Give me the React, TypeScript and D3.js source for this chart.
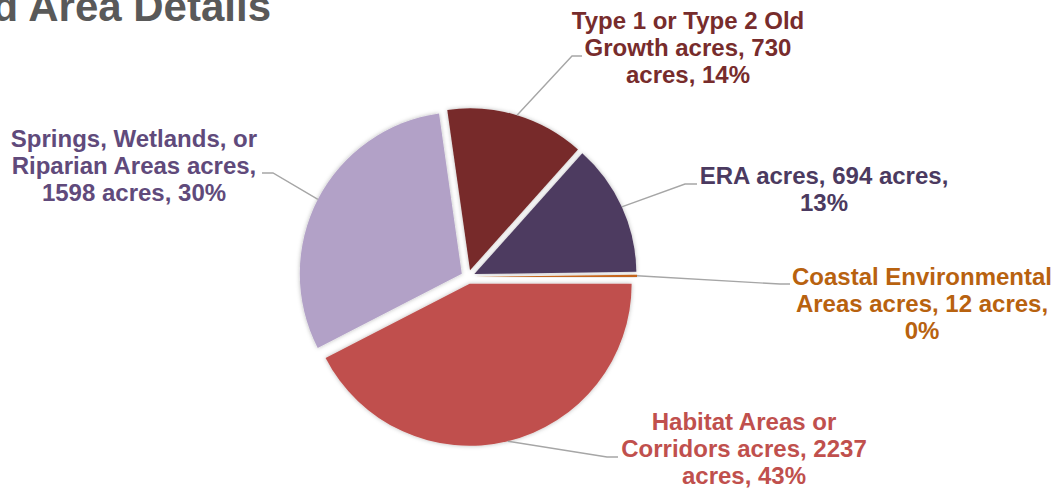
import React from "react";
import * as d3 from "d3";

// ---- data ----
const categories = [
  "Habitat Areas or Corridors acres",
  "Springs, Wetlands, or Riparian Areas acres",
  "Type 1 or Type 2 Old Growth acres",
  "ERA acres",
  "Coastal Environmental Areas acres",
];
const acres = [2237, 1598, 730, 694, 12];
const percentLabels = ["43%", "30%", "14%", "13%", "0%"];
const labelLines = [
  ["Habitat Areas or", "Corridors acres, 2237", "acres, 43%"],
  ["Springs, Wetlands, or", "Riparian Areas acres,", "1598 acres, 30%"],
  ["Type 1 or Type 2 Old", "Growth acres, 730", "acres, 14%"],
  ["ERA acres, 694 acres,", "13%"],
  ["Coastal Environmental", "Areas acres, 12 acres,", "0%"],
];
const titleText = "Land Area Details";

// ---- styles / layout ----
const sliceColors = ["#C0504D", "#B2A1C7", "#772A2A", "#4E3A61", "#C5651A"];
const textColors = ["#C0504D", "#604A7B", "#772C2C", "#4B3A60", "#B8620F"];
// label layout: text center x, first baseline y, elbow and end of leader line
const labelLayout = [
  { x: 744, y: 430, elbow: [607, 457], end: [618, 457] },
  { x: 134, y: 147, elbow: [273, 173], end: [262, 173] },
  { x: 688, y: 29, elbow: [572, 56], end: [582, 56] },
  { x: 824, y: 184, elbow: [685, 184], end: [697, 184] },
  { x: 922, y: 285, elbow: [780, 284], end: [790, 284] },
];

const W = 1059;
const H = 489;
const CX = 468;
const CY = 277;
const R = 162;
const EXPLODE = 7;
const FONT = "'Liberation Sans', Arial, Helvetica, sans-serif";

export default function App() {
  const pie = d3
    .pie<number>()
    .sort(null)
    .value((d) => d)
    .startAngle(Math.PI / 2)
    .endAngle(Math.PI / 2 + 2 * Math.PI);
  const arcs = pie(acres);
  const arcGen = d3.arc<d3.PieArcDatum<number>>().innerRadius(0).outerRadius(R);

  return (
    <svg
      width={W}
      height={H}
      style={{ position: "fixed", left: 0, top: 0, background: "#fff" }}
      fontFamily={FONT}
    >
      <defs>
        <filter id="sh" x="-20%" y="-20%" width="140%" height="140%">
          <feDropShadow dx="0" dy="0" stdDeviation="2.2" floodColor="#000" floodOpacity="0.28" />
        </filter>
      </defs>
      <rect x={0} y={0} width={W} height={H} fill="#fff" />
      <text
        x={271}
        y={20.5}
        textAnchor="end"
        fontSize={42}
        fontWeight="bold"
        fill="#595959"
      >
        {titleText}
      </text>

      <g transform={`translate(${CX},${CY})`}>
        {arcs.map((a, i) => {
          const mid = (a.startAngle + a.endAngle) / 2;
          const dx = EXPLODE * Math.sin(mid);
          const dy = -EXPLODE * Math.cos(mid);
          return (
            <path
              key={categories[i]}
              d={arcGen(a) || ""}
              transform={`translate(${dx},${dy})`}
              fill={sliceColors[i]}
              filter="url(#sh)"
            />
          );
        })}
      </g>

      {arcs.map((a, i) => {
        const mid = (a.startAngle + a.endAngle) / 2;
        const sx = CX + (R + EXPLODE) * Math.sin(mid);
        const sy = CY - (R + EXPLODE) * Math.cos(mid);
        const L = labelLayout[i];
        return (
          <polyline
            key={"l" + i}
            points={`${sx},${sy} ${L.elbow[0]},${L.elbow[1]} ${L.end[0]},${L.end[1]}`}
            fill="none"
            stroke="#A6A6A6"
            strokeWidth={1.4}
          />
        );
      })}

      {labelLines.map((lines, i) => {
        const L = labelLayout[i];
        return (
          <text
            key={"t" + i}
            x={L.x}
            y={L.y}
            textAnchor="middle"
            fontSize={24}
            fontWeight="bold"
            fill={textColors[i]}
          >
            {lines.map((s, j) => (
              <tspan key={j} x={L.x} y={L.y + j * 27}>
                {s}
              </tspan>
            ))}
          </text>
        );
      })}
    </svg>
  );
}
